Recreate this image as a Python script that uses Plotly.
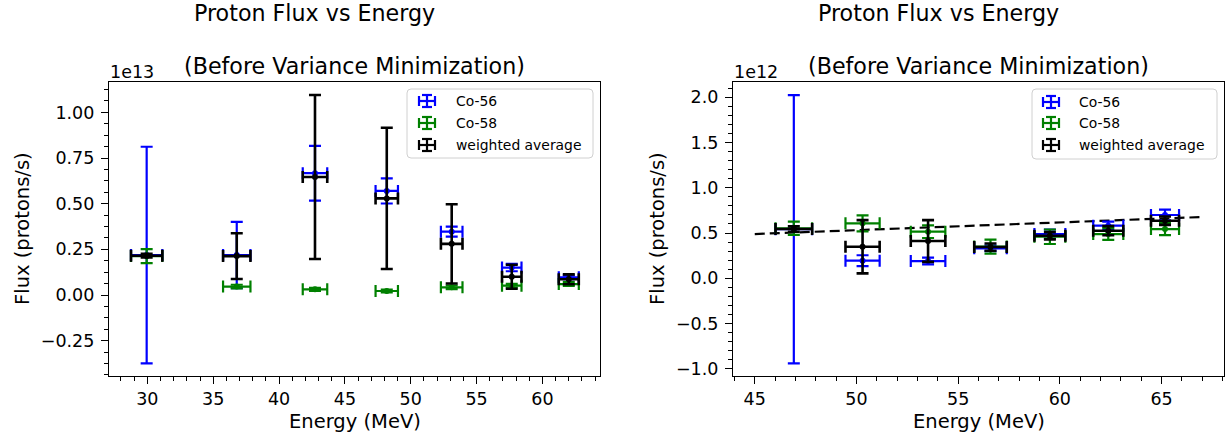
import plotly.graph_objects as go

W, H = 1230, 440

# ---- Left panel: flux in units of 1e13 protons/s ----
energy_left = [29.95, 36.79, 42.73, 48.18, 53.11, 57.67, 62.00]
energy_left_err = [1.19, 1.04, 0.93, 0.85, 0.82, 0.74, 0.76]
co56_left = [0.219, 0.219, 0.667, 0.570, 0.347, 0.150, 0.097]
co56_left_err = [0.593, 0.182, 0.150, 0.069, 0.027, 0.020, 0.010]
co58_left = [0.213, 0.046, 0.031, 0.022, 0.042, 0.051, 0.060]
co58_left_err = [0.038, 0.010, 0.008, 0.008, 0.010, 0.010, 0.010]
avg_left = [0.215, 0.213, 0.646, 0.529, 0.280, 0.100, 0.086]
avg_left_err = [0.010, 0.125, 0.449, 0.387, 0.217, 0.066, 0.027]

# ---- Right panel: flux in units of 1e12 protons/s ----
energy_right = [46.92, 50.30, 53.52, 56.59, 59.51, 62.38, 65.17]
energy_right_err = [0.90, 0.84, 0.85, 0.80, 0.76, 0.74, 0.69]
co56_right = [0.542, 0.195, 0.191, 0.331, 0.489, 0.581, 0.699]
co56_right_err = [1.480, 0.060, 0.037, 0.030, 0.050, 0.045, 0.060]
co58_right = [0.552, 0.607, 0.515, 0.350, 0.459, 0.489, 0.544]
co58_right_err = [0.073, 0.088, 0.070, 0.077, 0.080, 0.065, 0.068]
avg_right = [0.544, 0.349, 0.412, 0.345, 0.470, 0.526, 0.636]
avg_right_err = [0.030, 0.294, 0.230, 0.040, 0.040, 0.050, 0.046]

# linear trend across the right panel
fit_energy = [45.0, 67.0]
fit_flux = [0.489, 0.677]

series_names = ["Co-56", "Co-58", "weighted average"]
series_colors = ["#0000ff", "#008000", "#000000"]

FONT = "DejaVu Sans"

# axes boxes in pixels (left, right, top, bottom)
box_left = (109, 600, 82, 376)
box_right = (733, 1224, 82, 376)


def px(x):
    return x / W


def py(y):
    return 1 - y / H


fig = go.Figure()


def add_series(xs, xerr, ys, yerr, color, name, xa, ya, thick):
    fig.add_trace(go.Scatter(
        x=xs, y=ys, mode="markers", name=name, showlegend=False,
        marker=dict(color=color, size=6),
        error_x=dict(type="data", array=xerr, color=color, thickness=thick, width=6),
        error_y=dict(type="data", array=yerr, color=color, thickness=thick, width=6),
        xaxis=xa, yaxis=ya,
    ))


left_sets = [(co56_left, co56_left_err), (co58_left, co58_left_err), (avg_left, avg_left_err)]
right_sets = [(co56_right, co56_right_err), (co58_right, co58_right_err), (avg_right, avg_right_err)]

for (vals, errs), color, name in zip(left_sets, series_colors, series_names):
    add_series(energy_left, energy_left_err, vals, errs, color, name, "x", "y",
               2.6 if name == "weighted average" else 2.2)

fig.add_trace(go.Scatter(
    x=fit_energy, y=fit_flux, mode="lines", showlegend=False,
    line=dict(color="black", width=2.2, dash="10px,5px"),
    xaxis="x2", yaxis="y2",
))

for (vals, errs), color, name in zip(right_sets, series_colors, series_names):
    add_series(energy_right, energy_right_err, vals, errs, color, name, "x2", "y2",
               2.6 if name == "weighted average" else 2.2)

tickfont = dict(family=FONT, size=17.5, color="black")
common = dict(showline=True, mirror=True, linecolor="black", linewidth=1.2,
              ticks="outside", ticklen=7, tickwidth=1.2, tickcolor="black",
              showgrid=False, zeroline=False, tickfont=tickfont, automargin=False)


def minor(d):
    return dict(ticks="outside", ticklen=4, tickwidth=1, tickcolor="black", dtick=d)


fig.update_layout(
    width=W, height=H,
    margin=dict(l=0, r=0, t=0, b=0),
    paper_bgcolor="white", plot_bgcolor="white",
    font=dict(family=FONT, color="black"),
    showlegend=False,
    xaxis=dict(domain=[px(box_left[0]), px(box_left[1])], range=[27.09, 64.37],
               dtick=5, tick0=0, minor=minor(1), anchor="y", **common),
    yaxis=dict(domain=[py(box_left[3]), py(box_left[2])], range=[-0.4436, 1.1665],
               dtick=0.25, tick0=0, tickformat=".2f", minor=minor(0.0625), anchor="x",
               ticklabelstandoff=3, **common),
    xaxis2=dict(domain=[px(box_right[0]), px(box_right[1])], range=[43.93, 68.07],
                dtick=5, tick0=0, minor=minor(1), anchor="y2", **common),
    yaxis2=dict(domain=[py(box_right[3]), py(box_right[2])], range=[-1.078, 2.167],
                dtick=0.5, tick0=0, tickformat=".1f", minor=minor(0.1), anchor="x2",
                ticklabelstandoff=3, **common),
)

annotations = []
shapes = []


def text(x, y, s, size, xanchor="center", angle=0):
    annotations.append(dict(
        x=px(x), y=py(y), xref="paper", yref="paper", text=s, showarrow=False,
        xanchor=xanchor, yanchor="middle", textangle=angle,
        font=dict(family=FONT, size=size, color="black"),
    ))


for box, expo, ylab_x in [(box_left, "1e13", 22), (box_right, "1e12", 657)]:
    cx = (box[0] + box[1]) / 2
    # two-line title: first line sits flush with the left of the block
    text(cx - 163, 13, "Proton Flux vs Energy", 22.2, xanchor="left")
    text(cx, 66, "(Before Variance Minimization)", 22.2)
    text(box[0] - 1, 72, expo, 17.5, xanchor="left")
    text(cx, 421, "Energy (MeV)", 19.5)
    text(ylab_x, (box[2] + box[3]) / 2, "Flux (protons/s)", 19.5, angle=-90)


def legend(x0, x1, y0, y1, icon_x, text_x, rows):
    r = 4
    path = (f"M {px(x0 + r)},{py(y0)} L {px(x1 - r)},{py(y0)} "
            f"Q {px(x1)},{py(y0)} {px(x1)},{py(y0 + r)} L {px(x1)},{py(y1 - r)} "
            f"Q {px(x1)},{py(y1)} {px(x1 - r)},{py(y1)} L {px(x0 + r)},{py(y1)} "
            f"Q {px(x0)},{py(y1)} {px(x0)},{py(y1 - r)} L {px(x0)},{py(y0 + r)} "
            f"Q {px(x0)},{py(y0)} {px(x0 + r)},{py(y0)} Z")
    shapes.append(dict(type="path", path=path, xref="paper", yref="paper",
                       line=dict(color="#d0d0d0", width=1),
                       fillcolor="rgba(255,255,255,0.8)", layer="above"))
    for row_y, color, name in zip(rows, series_colors, series_names):
        segs = [
            (icon_x - 8, row_y, icon_x + 8, row_y),
            (icon_x - 8, row_y - 5, icon_x - 8, row_y + 5),
            (icon_x + 8, row_y - 5, icon_x + 8, row_y + 5),
            (icon_x, row_y - 6, icon_x, row_y + 6),
            (icon_x - 5, row_y - 6, icon_x + 5, row_y - 6),
            (icon_x - 5, row_y + 6, icon_x + 5, row_y + 6),
        ]
        for a, b, c, d in segs:
            shapes.append(dict(type="line", xref="paper", yref="paper",
                               x0=px(a), y0=py(b), x1=px(c), y1=py(d),
                               line=dict(color=color, width=2.2), layer="above"))
        text(text_x, row_y, name, 13.9, xanchor="left")


legend(407, 593, 89, 158, 427, 454, [101, 123, 145])
legend(1032, 1217, 89, 159, 1051, 1077, [102, 123, 145])

fig.update_layout(annotations=annotations, shapes=shapes)

fig.write_html("out.html")
